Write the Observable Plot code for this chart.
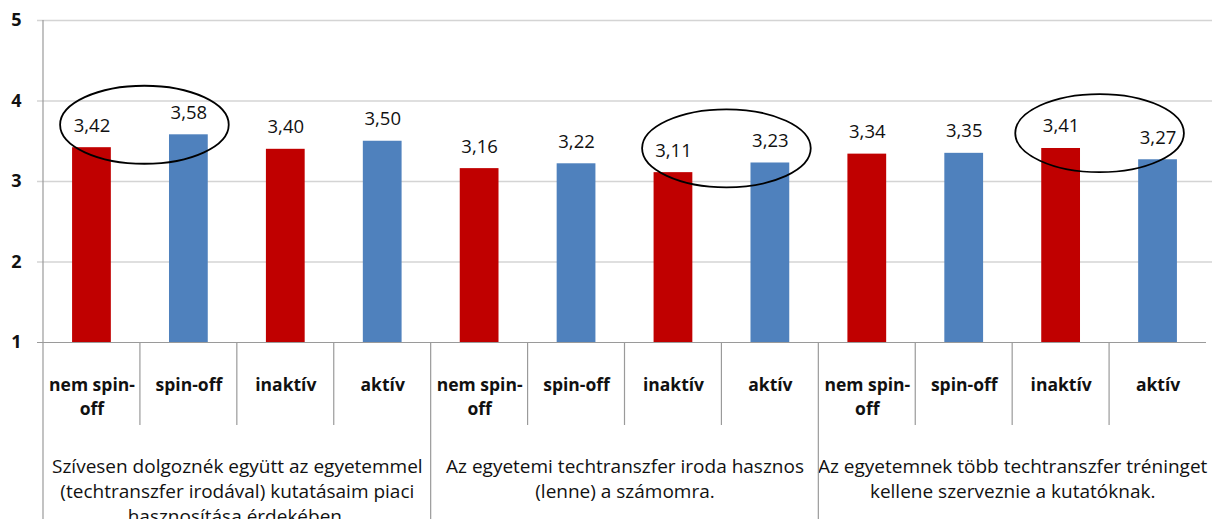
<!DOCTYPE html>
<html>
<head>
<meta charset="utf-8">
<script src="https://cdn.jsdelivr.net/npm/d3@7"></script>
<script src="https://cdn.jsdelivr.net/npm/@observablehq/plot@0.6"></script>
<style>
  html, body { margin: 0; padding: 0; background: #fff; }
</style>
</head>
<body>
<div id="chart"></div>
<script>
// ---- data ----
const groups = [
  "Szívesen dolgoznék együtt az egyetemmel\n(techtranszfer irodával) kutatásaim piaci\nhasznosítása érdekében.",
  "Az egyetemi techtranszfer iroda hasznos\n(lenne) a számomra.",
  "Az egyetemnek több techtranszfer tréninget\nkellene szerveznie a kutatóknak."
];
const categories = ["nem spin-off", "spin-off", "inaktív", "aktív"];
const categoryLabels = ["nem spin-\noff", "spin-off", "inaktív", "aktív"];
const values = [
  [3.42, 3.58, 3.40, 3.50],
  [3.16, 3.22, 3.11, 3.23],
  [3.34, 3.35, 3.41, 3.27]
];
const categoryColors = ["#C00000", "#4F81BD", "#C00000", "#4F81BD"];
const highlights = [[0, 0, 1], [1, 2, 3], [2, 2, 3]]; // group, first category, second category
const yTicks = [1, 2, 3, 4, 5];

// ---- table ----
const rows = [];
groups.forEach((g, gi) => categories.forEach((c, ci) => rows.push({
  key: gi + "|" + c, group: gi, cat: ci, label: categoryLabels[ci],
  value: values[gi][ci], color: categoryColors[ci]
})));
const keys = rows.map(d => d.key);

const W = 1212, H = 519, ML = 43, MR = 6, MT = 20, MB = 177;
const step = (W - ML - MR) / keys.length;
const font = "'Open Sans', Lato, sans-serif";
// hand-drawn highlight ellipses: small pixel nudges (style only)
const ellipseNudge = [[4.5, -16], [5, -19], [-9.5, -20.5]];

const chart = Plot.plot({
  width: W, height: H,
  marginLeft: ML, marginRight: MR, marginTop: MT, marginBottom: MB,
  style: { fontFamily: font, background: "#fff", color: "#000", overflow: "visible" },
  x: { domain: keys, paddingInner: 0.6, paddingOuter: 0.3, round: false, axis: null },
  y: { domain: [1, 5], axis: null },
  marks: [
    Plot.ruleY(yTicks.filter(t => t > 1), { stroke: "#d4d4d4", strokeWidth: 1.3, insetLeft: -6, insetRight: -6 }),
    Plot.barY(rows, { x: "key", y1: 1, y2: "value", fill: "color" }),
    Plot.ruleY([1], { stroke: "#9a9a9a", strokeWidth: 1.2, insetLeft: -6 }),
    Plot.axisY(yTicks, { tickFormat: d => String(d), label: null, tickSize: 0, tickPadding: 22, fontSize: 18, fontWeight: "bold", fill: "#111" }),
    Plot.text(rows, {
      x: "key", y: "value", text: d => d.value.toFixed(2).replace(".", ","),
      lineAnchor: "bottom", dy: -16, fontSize: 18.5, fill: "#111"
    }),
    Plot.text(rows, {
      x: "key", frameAnchor: "bottom", text: "label", lineAnchor: "top",
      dy: 31, fontSize: 17.5, fontWeight: "bold", lineHeight: 24 / 17.5, fill: "#111"
    }),
    Plot.text(rows.filter(d => d.cat === 2), {
      x: "key", frameAnchor: "bottom", text: d => groups[d.group], lineAnchor: "top",
      dx: -step / 2, dy: 113, fontSize: 19, lineHeight: 25 / 19, fill: "#111"
    })
  ]
});

// separators and highlight ellipses, positioned through the chart's own scales
const sx = chart.scale("x"), sy = chart.scale("y");
const bw = sx.bandwidth, st = sx.step;
const svg = d3.select(chart);
const frameBottom = H - MB;
const g = svg.append("g").attr("stroke", "#9a9a9a").attr("stroke-width", 1.2);
rows.forEach((d, i) => {
  const xb = sx.apply(d.key) - (st - bw) / 2;
  const isGroup = d.cat === 0;
  g.append("line")
    .attr("x1", xb).attr("x2", xb)
    .attr("y1", isGroup && i === 0 ? MT : frameBottom)
    .attr("y2", isGroup ? H : frameBottom + 83);
});
const e = svg.append("g").attr("fill", "none").attr("stroke", "#000").attr("stroke-width", 1.8);
highlights.forEach(([gi, a, b], k) => {
  const ra = rows.find(r => r.group === gi && r.cat === a);
  const rb = rows.find(r => r.group === gi && r.cat === b);
  const cx = (sx.apply(ra.key) + sx.apply(rb.key)) / 2 + bw / 2 + ellipseNudge[k][0];
  const cy = sy.apply((ra.value + rb.value) / 2) + ellipseNudge[k][1];
  e.append("ellipse").attr("cx", cx).attr("cy", cy).attr("rx", 0.87 * st).attr("ry", 39);
});

document.getElementById("chart").appendChild(chart);
</script>
</body>
</html>
